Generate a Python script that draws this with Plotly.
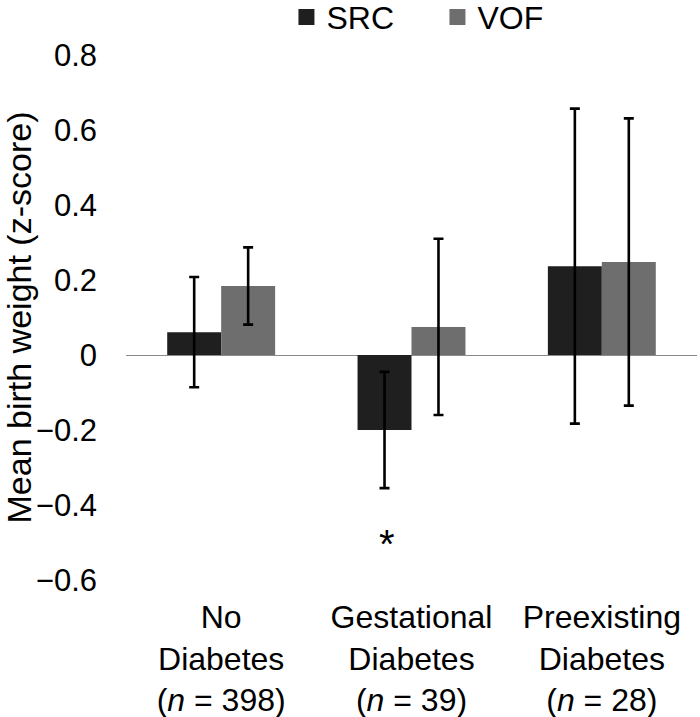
import plotly.graph_objects as go

# ----------------------
# Data
# ----------------------
categories = [
    "No<br>Diabetes<br>(<i>n</i> = 398)",
    "Gestational<br>Diabetes<br>(<i>n</i> = 39)",
    "Preexisting<br>Diabetes<br>(<i>n</i> = 28)",
]
src_mean = [0.061, -0.200, 0.237]
src_err = [0.147, 0.155, 0.420]
vof_mean = [0.184, 0.075, 0.248]
vof_err = [0.103, 0.235, 0.383]

y_ticks = [-0.6, -0.4, -0.2, 0, 0.2, 0.4, 0.6, 0.8]
y_ticktext = ["\u22120.6", "\u22120.4", "\u22120.2", "0", "0.2", "0.4", "0.6", "0.8"]

src_col = "#1f1f1f"
vof_col = "#6e6e6e"
FONT = "Liberation Sans, Arial, sans-serif"

fig = go.Figure()

fig.add_trace(go.Bar(
    x=categories, y=src_mean, name="SRC",
    marker=dict(color=src_col, line=dict(width=0)),
    error_y=dict(type="data", array=src_err, color="black", thickness=2.6, width=5),
    showlegend=False,
))
fig.add_trace(go.Bar(
    x=categories, y=vof_mean, name="VOF",
    marker=dict(color=vof_col, line=dict(width=0)),
    error_y=dict(type="data", array=vof_err, color="black", thickness=2.6, width=5),
    showlegend=False,
))

# legend swatches (bigger squares than the bar default)
for nm, col in [("SRC", src_col), ("VOF", vof_col)]:
    fig.add_trace(go.Scatter(
        x=[None], y=[None], mode="markers", name=nm,
        marker=dict(symbol="square", size=16, color=col),
    ))

# significance marker under the gestational SRC bar
fig.add_annotation(
    x=categories[1], y=-0.505, xref="x", yref="y",
    text="*", showarrow=False, xshift=-25,
    font=dict(family=FONT, size=40, color="black"),
)

fig.update_layout(
    width=700, height=717,
    margin=dict(l=126, r=3, t=55, b=137, autoexpand=False),
    paper_bgcolor="white", plot_bgcolor="white",
    barmode="group", bargap=0.433, bargroupgap=0,
    font=dict(family=FONT, color="black"),
    showlegend=True,
    legend=dict(
        orientation="h", x=0.281, xanchor="left", y=1.072, yanchor="middle",
        font=dict(family=FONT, size=32, color="black"),
        entrywidth=106, entrywidthmode="pixels",
        bgcolor="rgba(0,0,0,0)", itemclick=False,
    ),
    xaxis=dict(
        showgrid=False, showline=False, ticks="",
        tickfont=dict(family=FONT, size=32, color="black"),
        ticklabelstandoff=15,
    ),
    yaxis=dict(
        range=[-0.6, 0.8], tickvals=y_ticks, ticktext=y_ticktext,
        showgrid=False, showline=False, ticks="",
        zeroline=True, zerolinecolor="#8a8a8a", zerolinewidth=1.3,
        tickfont=dict(family=FONT, size=31, color="black"),
        ticklabelstandoff=28,
        title=dict(text="Mean birth weight (z-score)",
                   font=dict(family=FONT, size=34, color="black"),
                   standoff=10),
    ),
)

# page body has a default 8px margin; drop it so the figure sits at the corner
fig.write_html("out.html", config={"displayModeBar": False},
               post_script="document.body.style.margin='0';")
